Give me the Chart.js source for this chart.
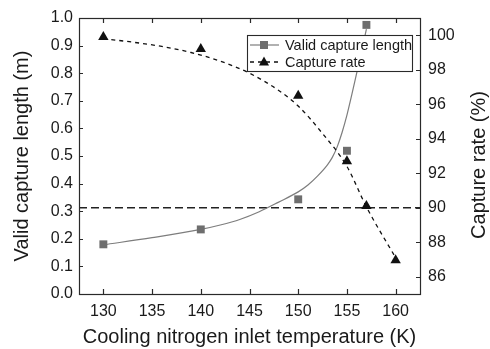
<!DOCTYPE html>
<html>
<head>
<meta charset="utf-8">
<script src="https://cdn.jsdelivr.net/npm/chart.js@4/dist/chart.umd.min.js"></script>
<style>
  html, body { margin: 0; padding: 0; background: #fff; }
  #wrap { width: 490px; height: 349px; }
</style>
</head>
<body>
<div id="wrap"><canvas id="c" width="490" height="349"></canvas></div>
<script>
// ---- data ----
const lengthTemps = [130, 140, 150, 155, 157];
const lengthValues = [0.18, 0.234, 0.343, 0.519, 0.975];

const rateTemps = [130, 140, 150, 155, 157, 160];
const rateValues = [99.9, 99.2, 96.5, 92.7, 90.1, 86.96];

// fitted curves
const lengthFitTemps = [130, 135, 140, 142, 144, 146, 148, 150, 151, 152, 153, 153.5, 154, 154.5, 155, 155.5, 156, 156.5, 157];
const lengthFitValues = [0.178, 0.204, 0.234, 0.250, 0.270, 0.298, 0.333, 0.370, 0.395, 0.428, 0.468, 0.495, 0.533, 0.585, 0.648, 0.722, 0.80, 0.878, 0.96];

const rateFitTemps = [130, 133, 136, 139, 142, 145, 148, 150, 152.5, 155, 157, 160];
const rateFitValues = [99.8, 99.6, 99.35, 99.0, 98.5, 97.8, 96.8, 95.9, 94.3, 92.4, 90.05, 87.1];

const thresholdRate = 90;

const xTicks = [130, 135, 140, 145, 150, 155, 160];
const leftTicks = [0, 0.1, 0.2, 0.3, 0.4, 0.5, 0.6, 0.7, 0.8, 0.9, 1.0];
const rightTicks = [86, 88, 90, 92, 94, 96, 98, 100];

const xMin = 127.5, xMax = 162.5;
const seriesNames = ['Valid capture length', 'Capture rate'];
const rightTitle = 'Capture rate (%)';

// ---- styles ----
const FONT = "'Liberation Sans', Arial, Helvetica, sans-serif";
const AXIS = '#2a2a2a';
const GRAY_MARK = '#6e6e6e';
const GRAY_LINE = '#7d7d7d';
const BLACK = '#111111';

const zip = (xs, ys) => xs.map((x, i) => ({ x: x, y: ys[i] }));

const frame = {
  id: 'frame',
  afterDatasetsDraw(chart) {
    const { ctx, chartArea: a, scales } = chart;
    ctx.save();
    ctx.strokeStyle = AXIS;
    ctx.lineWidth = 1.2;
    ctx.setLineDash([]);
    // inward ticks
    ctx.beginPath();
    scales.x.ticks.forEach(t => {
      const px = Math.round(scales.x.getPixelForValue(t.value)) + 0.5;
      ctx.moveTo(px, a.bottom); ctx.lineTo(px, a.bottom - 5);
      ctx.moveTo(px, a.top); ctx.lineTo(px, a.top + 5);
    });
    scales.y.ticks.forEach(t => {
      const py = Math.round(scales.y.getPixelForValue(t.value)) + 0.5;
      ctx.moveTo(a.left, py); ctx.lineTo(a.left + 4, py);
    });
    scales.y1.ticks.forEach(t => {
      const py = Math.round(scales.y1.getPixelForValue(t.value)) + 0.5;
      ctx.moveTo(a.right, py); ctx.lineTo(a.right - 4, py);
    });
    ctx.stroke();
    ctx.strokeRect(a.left + 0.5, a.top + 0.5, a.right - a.left, a.bottom - a.top);

    // right axis title, reading bottom to top
    ctx.save();
    ctx.translate(479, 165);
    ctx.rotate(-Math.PI / 2);
    ctx.fillStyle = '#1a1a1a';
    ctx.font = '20px ' + FONT;
    ctx.textAlign = 'center';
    ctx.textBaseline = 'middle';
    ctx.fillText(rightTitle, 0, 0);
    ctx.restore();

    // legend box
    const bx = 247, by = 35, bw = 165, bh = 36;
    ctx.fillStyle = '#fff';
    ctx.fillRect(bx, by, bw, bh);
    ctx.lineWidth = 1.1;
    ctx.strokeRect(bx + 0.5, by + 0.5, bw, bh);
    const rows = [by + 10, by + 27];
    // row 1: solid gray line with square
    ctx.strokeStyle = GRAY_LINE; ctx.lineWidth = 1.2;
    ctx.beginPath(); ctx.moveTo(250, rows[0]); ctx.lineTo(279, rows[0]); ctx.stroke();
    ctx.fillStyle = GRAY_MARK;
    ctx.fillRect(264 - 4, rows[0] - 4, 8, 8);
    // row 2: dashed black with triangle
    ctx.strokeStyle = BLACK; ctx.lineWidth = 1.3;
    ctx.setLineDash([4, 4]);
    ctx.beginPath(); ctx.moveTo(250, rows[1]); ctx.lineTo(279, rows[1]); ctx.stroke();
    ctx.setLineDash([]);
    ctx.fillStyle = BLACK;
    ctx.beginPath();
    ctx.moveTo(264, rows[1] - 5.5);
    ctx.lineTo(269, rows[1] + 3.5);
    ctx.lineTo(259, rows[1] + 3.5);
    ctx.closePath(); ctx.fill();
    // text
    ctx.fillStyle = '#1a1a1a';
    ctx.font = '14.5px ' + FONT;
    ctx.textBaseline = 'middle';
    ctx.textAlign = 'left';
    ctx.fillText(seriesNames[0], 285, rows[0] + 1);
    ctx.fillText(seriesNames[1], 285, rows[1] + 1);
    ctx.restore();
  }
};

new Chart(document.getElementById('c'), {
  data: {
    datasets: [
      {
        type: 'scatter', label: seriesNames[0], data: zip(lengthTemps, lengthValues),
        yAxisID: 'y', pointStyle: 'rect', pointRadius: 5.6, pointHoverRadius: 5.6,
        backgroundColor: GRAY_MARK, borderColor: GRAY_MARK, borderWidth: 0, showLine: false, order: 1
      },
      {
        type: 'scatter', label: seriesNames[1], data: zip(rateTemps, rateValues),
        yAxisID: 'y1', pointStyle: 'triangle', pointRadius: 6, pointHoverRadius: 6,
        backgroundColor: BLACK, borderColor: BLACK, borderWidth: 0, showLine: false, order: 2
      },
      {
        type: 'line', label: 'fit length', data: zip(lengthFitTemps, lengthFitValues),
        yAxisID: 'y', borderColor: GRAY_LINE, borderWidth: 1.2, pointRadius: 0,
        cubicInterpolationMode: 'monotone', fill: false, order: 5
      },
      {
        type: 'line', label: 'fit rate', data: zip(rateFitTemps, rateFitValues),
        yAxisID: 'y1', borderColor: BLACK, borderWidth: 1.3, borderDash: [4, 4], pointRadius: 0,
        cubicInterpolationMode: 'monotone', fill: false, order: 4
      },
      {
        type: 'line', label: 'threshold', data: [{ x: xMin, y: thresholdRate }, { x: xMax, y: thresholdRate }],
        yAxisID: 'y1', borderColor: '#222', borderWidth: 1.3, borderDash: [8, 4], pointRadius: 0,
        fill: false, order: 6
      }
    ]
  },
  options: {
    responsive: false,
    animation: false,
    devicePixelRatio: 1,
    layout: { padding: { top: 18, left: 0, right: 0, bottom: 0 } },
    plugins: { legend: { display: false }, tooltip: { enabled: false } },
    scales: {
      x: {
        type: 'linear', position: 'bottom', min: xMin, max: xMax,
        afterBuildTicks: s => { s.ticks = xTicks.map(v => ({ value: v })); },
        afterFit: s => { s.height = 55; },
        grid: { display: false, drawTicks: false },
        border: { display: false },
        ticks: { color: '#1a1a1a', font: { family: FONT, size: 16 }, padding: 8, maxRotation: 0,
                 callback: v => String(v) },
        title: { display: true, text: 'Cooling nitrogen inlet temperature (K)', color: '#1a1a1a',
                 font: { family: FONT, size: 20 }, padding: { top: 0, bottom: 0 } }
      },
      y: {
        type: 'linear', position: 'left', min: 0, max: 1.0,
        afterBuildTicks: s => { s.ticks = leftTicks.map(v => ({ value: v })); },
        afterFit: s => { s.width = 79; },
        grid: { display: false, drawTicks: false },
        border: { display: false },
        ticks: { color: '#1a1a1a', font: { family: FONT, size: 16 }, padding: 6,
                 callback: v => Number(v).toFixed(1) },
        title: { display: true, text: 'Valid capture length (m)', color: '#1a1a1a',
                 font: { family: FONT, size: 20 }, padding: { top: 10, bottom: 0 } }
      },
      y1: {
        type: 'linear', position: 'right', min: 85, max: 101,
        afterBuildTicks: s => { s.ticks = rightTicks.map(v => ({ value: v })); },
        afterFit: s => { s.width = 70; },
        grid: { display: false, drawTicks: false },
        border: { display: false },
        ticks: { color: '#1a1a1a', font: { family: FONT, size: 16 }, padding: 8,
                 callback: v => String(v) },
        title: { display: false }
      }
    }
  },
  plugins: [frame]
});
</script>
</body>
</html>
